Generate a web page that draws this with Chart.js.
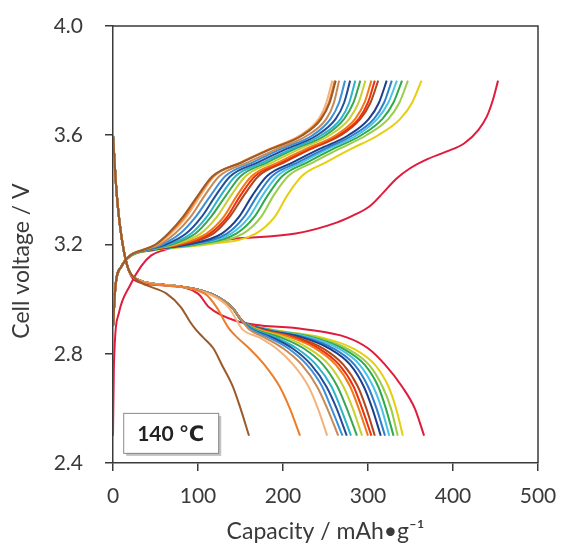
<!DOCTYPE html>
<html><head><meta charset="utf-8">
<script src="https://cdn.jsdelivr.net/npm/chart.js@4"></script>
<style>html,body{margin:0;padding:0;background:#fff}</style>
</head><body>
<canvas id="c" width="564" height="549" style="width:564px;height:549px;display:block"></canvas>
<script>
// ---- data ----
const xTicks = [0, 100, 200, 300, 400, 500];
const yTicks = [2.4, 2.8, 3.2, 3.6, 4.0];
const cycleColors = ['#e01b3c','#e6cf10','#9ccc4a','#2eaa4a','#4cc3e6','#2f7fcc','#1d3f8a','#b0481e','#f0300c','#f07a1a','#c8d030','#3aa655','#2cb5c9','#254a96','#3a90dc','#c68a55','#f4b27c','#ee7d28','#9b5a2a'];

// first-cycle charge (own points)
const firstChargeCap  = [0, 1, 7, 20, 33, 45, 60, 85, 140, 215, 263, 285, 302, 318, 333, 350, 368, 392, 413, 430, 440, 447, 453];
const firstChargeVolt = [2.50, 2.75, 2.95, 3.05, 3.12, 3.16, 3.18, 3.20, 3.22, 3.24, 3.28, 3.31, 3.34, 3.39, 3.44, 3.48, 3.51, 3.54, 3.57, 3.62, 3.67, 3.73, 3.80];

// charge curves of cycles 2..19: capacity at each voltage
const chargeVolts = [2.90, 3.05, 3.12, 3.16, 3.18, 3.20, 3.24, 3.30, 3.38, 3.45, 3.50, 3.55, 3.60, 3.66, 3.72, 3.80];
const chargeCaps = [
  [0,3,10,22,50,110,168,190,205,222,250,280,312,338,352,363],
  [0,3,10,22,48,101,153,174,189,206,235,266,298,324,337,347],
  [0,3,10,22,47,97,145,166,182,199,228,259,292,317,330,340],
  [0,3,10,21,46,93,139,160,176,193,222,253,287,311,324,334],
  [0,3,10,21,45,90,134,154,170,187,217,249,282,307,319,328],
  [0,3,10,21,44,87,128,148,164,181,211,243,277,301,313,322],
  [0,3,10,21,43,81,118,137,154,171,201,233,268,291,303,312],
  [0,3,10,21,42,79,114,134,150,167,198,231,265,289,300,308],
  [0,3,10,21,42,76,110,130,146,163,194,227,262,285,296,304],
  [0,3,10,21,41,72,103,122,139,156,187,220,255,278,289,297],
  [0,3,10,21,40,69,97,115,133,150,181,214,250,272,283,291],
  [0,3,10,21,39,66,92,110,127,144,176,210,245,268,278,285],
  [0,3,10,20,38,62,86,104,121,138,170,204,240,262,272,279],
  [0,3,10,20,37,58,79,97,115,132,164,198,235,256,266,273],
  [0,3,10,20,36,55,73,91,108,125,158,193,229,251,260,266],
  [0,3,10,20,35,52,68,86,103,119,150,184,220,242,251,258],
  [0,3,10,20,35,51,66,84,101,118,150,185,222,244,254,261],
  [0,3,10,20,35,50,65,82,100,117,151,186,223,245,255,262]
];

// discharge curves of cycles 1..19: capacity at each voltage
const dischargeVolts = [3.60, 3.40, 3.25, 3.12, 3.07, 3.05, 3.02, 2.97, 2.92, 2.89, 2.86, 2.82, 2.76, 2.68, 2.60, 2.50];
const dischargeCaps = [
  [0,4,9,17,25,60,100,113,145,225,275,300,320,340,355,366],
  [0,4,9,17,30,70,115,140,152,185,245,282,308,324,333,341],
  [0,4,9,17,30,70,115,140,152,183,240,275,301,317,327,335],
  [0,4,9,17,30,70,115,140,152,181,235,270,296,312,321,330],
  [0,4,9,17,30,70,115,140,152,180,231,265,290,306,316,325],
  [0,4,9,17,30,70,115,140,152,178,226,259,284,300,310,320],
  [0,4,9,17,30,70,115,140,152,176,222,254,279,295,305,315],
  [0,4,9,17,30,70,115,140,152,174,216,247,271,288,298,308],
  [0,4,9,17,30,70,115,140,152,173,212,242,266,283,293,304],
  [0,4,9,17,30,70,115,140,152,171,209,238,262,279,289,300],
  [0,4,9,17,30,70,115,140,152,169,203,230,254,271,282,293],
  [0,4,9,17,30,70,115,140,152,167,197,224,247,264,275,287],
  [0,4,9,17,30,70,115,140,152,165,191,216,239,257,268,280],
  [0,4,9,17,30,70,115,140,152,163,187,211,233,251,263,275],
  [0,4,9,17,30,70,115,140,152,162,183,206,228,246,257,270],
  [0,4,9,17,30,70,115,140,152,160,178,200,222,240,252,265],
  [0,4,9,17,30,70,112,136,146,152,172,192,212,230,241,252],
  [0,4,9,17,30,62,108,122,131,137,146,160,178,196,208,220],
  [0,4,9,17,28,40,63,80,90,97,106,118,128,141,150,160]
];
const tempLabel = '140 \u2103';
const xTitle = 'Capacity / mAh\u2022g\u207B\u00B9';
const yTitle = 'Cell voltage / V';

// ---- build datasets (later cycles drawn on top) ----
function pts(caps, volts){ return caps.map((c,i)=>({x:c, y:volts[i]})); }
const datasets = [];
for (let k = cycleColors.length - 1; k >= 0; k--) {
  const col = cycleColors[k];
  const ch = k === 0 ? pts(firstChargeCap, firstChargeVolt) : pts(chargeCaps[k-1], chargeVolts);
  const dis = pts(dischargeCaps[k], dischargeVolts);
  const common = {showLine:true, pointRadius:0, borderWidth:2, borderColor:col, backgroundColor:col, fill:false, cubicInterpolationMode:'monotone'};
  datasets.push(Object.assign({label:'discharge '+(k+1), data:dis}, common));
  datasets.push(Object.assign({label:'charge '+(k+1), data:ch}, common));
}

const FONT = "Lato, 'Open Sans', 'DejaVu Sans', sans-serif";
const AX = '#3a3a3a';

const framePlugin = {
  id:'frame',
  afterDatasetsDraw(chart){
    const {ctx, chartArea:a} = chart;
    ctx.save();
    ctx.strokeStyle = AX; ctx.lineWidth = 1.5;
    ctx.beginPath();
    ctx.moveTo(a.left, a.top); ctx.lineTo(a.right, a.top); ctx.lineTo(a.right, a.bottom);
    ctx.stroke();
    ctx.restore();
  },
  afterDraw(chart){
    const {ctx} = chart;
    const xs = chart.scales.x, ys = chart.scales.y;
    // temperature box
    const x0 = xs.getPixelForValue(12), y0 = ys.getPixelForValue(2.437);
    const w = 95, h = 40;
    ctx.save();
    ctx.fillStyle = 'rgba(120,120,120,0.45)';
    ctx.fillRect(x0+3, y0-h+3, w, h);
    ctx.fillStyle = '#fff';
    ctx.fillRect(x0, y0-h, w, h);
    ctx.strokeStyle = '#8a8a8a'; ctx.lineWidth = 1;
    ctx.strokeRect(x0+0.5, y0-h+0.5, w, h);
    ctx.fillStyle = '#222';
    ctx.font = "bold 21px " + FONT;
    ctx.textAlign = 'center'; ctx.textBaseline = 'middle';
    ctx.fillText(tempLabel, x0 + w/2, y0 - h/2 + 1);
    // y title
    ctx.translate(22, 261);
    ctx.rotate(-Math.PI/2);
    ctx.fillStyle = AX;
    ctx.font = "23px " + FONT;
    ctx.fillText(yTitle, 0, 0);
    ctx.restore();
  }
};

new Chart(document.getElementById('c'), {
  type:'scatter',
  data:{datasets},
  options:{
    responsive:false, animation:false, devicePixelRatio:1,
    layout:{padding:{top:26, right:26, left:0, bottom:0}},
    plugins:{legend:{display:false}, tooltip:{enabled:false}},
    scales:{
      x:{type:'linear', min:0, max:500,
        afterBuildTicks(s){ s.ticks = xTicks.map(v=>({value:v})); },
        afterFit(s){ s.height = 86; s.paddingLeft = 0; s.paddingRight = 0; },
        ticks:{font:{family:FONT, size:21}, color:AX, padding:13},
        grid:{drawOnChartArea:false, tickLength:8, color:AX, lineWidth:1.5},
        border:{color:AX, width:1.5},
        title:{display:true, text:xTitle, font:{family:FONT, size:23}, color:AX, padding:{top:2, bottom:4}}
      },
      y:{type:'linear', min:2.4, max:4.0,
        afterBuildTicks(s){ s.ticks = yTicks.map(v=>({value:v})); },
        afterFit(s){ s.width = 113; s.paddingTop = 10; s.paddingBottom = 10; },
        ticks:{font:{family:FONT, size:21}, color:AX, padding:22, callback:v=>Number(v).toFixed(1)},
        grid:{drawOnChartArea:false, tickLength:8, color:AX, lineWidth:1.5},
        border:{color:AX, width:1.5},
        title:{display:false}
      }
    }
  },
  plugins:[framePlugin]
});
</script>
</body></html>
